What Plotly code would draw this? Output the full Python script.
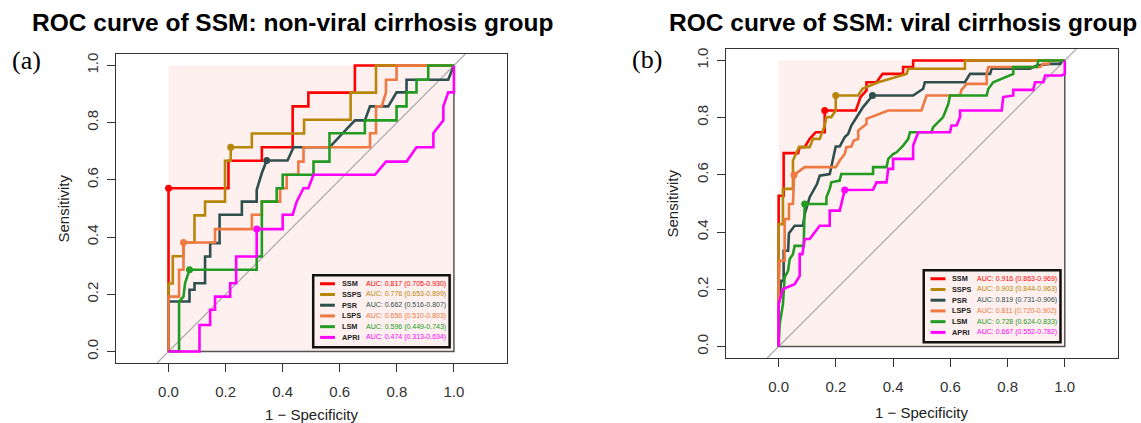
import plotly.graph_objects as go

W, H = 1141, 423

# ---------------- data ----------------
names = ["SSM", "SSPS", "PSR", "LSPS", "LSM", "APRI"]
colors = ["#ff0000", "#b8860b", "#2f4f4f", "#ee7942", "#229b22", "#ff00ff"]

auc_a = ["AUC: 0.817 (0.705-0.930)", "AUC: 0.776 (0.653-0.899)", "AUC: 0.662 (0.516-0.807)",
         "AUC: 0.656 (0.510-0.803)", "AUC: 0.596 (0.449-0.743)", "AUC: 0.474 (0.313-0.634)"]
auc_b = ["AUC: 0.916 (0.863-0.969)", "AUC: 0.903 (0.844-0.963)", "AUC: 0.819 (0.731-0.906)",
         "AUC: 0.811 (0.720-0.902)", "AUC: 0.728 (0.624-0.833)", "AUC: 0.667 (0.552-0.782)"]

tick_vals = [0, 0.2, 0.4, 0.6, 0.8, 1.0]
tick_text = ["0.0", "0.2", "0.4", "0.6", "0.8", "1.0"]

# panel (a): non-viral cirrhosis group  (x = 1 - specificity, y = sensitivity)
a_ssm_x = [0, 0, 0.21, 0.21, 0.327, 0.327, 0.435, 0.435, 0.49, 0.49, 0.653, 0.653, 1]
a_ssm_y = [0, 0.571, 0.571, 0.667, 0.667, 0.714, 0.714, 0.857, 0.857, 0.905, 0.905, 1, 1]

a_ssps_x = [0, 0, 0.015, 0.015, 0.052, 0.052, 0.091, 0.091, 0.128, 0.128, 0.198, 0.198, 0.218, 0.218,
            0.292, 0.292, 0.475, 0.475, 0.638, 0.638, 0.727, 0.727, 1]
a_ssps_y = [0, 0.238, 0.238, 0.333, 0.333, 0.381, 0.381, 0.476, 0.476, 0.524, 0.524, 0.667, 0.667, 0.714,
            0.714, 0.762, 0.762, 0.810, 0.810, 0.905, 0.905, 1, 1]

a_psr_x = [0, 0, 0.0735, 0.0735, 0.091, 0.091, 0.128, 0.128, 0.146, 0.146, 0.179, 0.179, 0.257, 0.257,
           0.309, 0.309, 0.327, 0.344, 0.417, 0.438, 0.564, 0.653, 0.688, 0.706, 0.770, 0.799, 0.834,
           0.834, 0.980, 1]
a_psr_y = [0, 0.175, 0.175, 0.216, 0.216, 0.239, 0.239, 0.332, 0.332, 0.379, 0.379, 0.478, 0.478, 0.524,
           0.524, 0.565, 0.624, 0.668, 0.668, 0.714, 0.714, 0.808, 0.808, 0.857, 0.857, 0.906, 0.906,
           0.950, 0.950, 1]

a_lsps_x = [0, 0, 0.037, 0.037, 0.0525, 0.0525, 0.163, 0.163, 0.292, 0.292, 0.327, 0.327, 0.391, 0.391,
            0.414, 0.414, 0.455, 0.455, 0.473, 0.473, 0.706, 0.706, 0.727, 0.727, 0.747, 0.762, 0.762,
            0.799, 0.799, 1]
a_lsps_y = [0, 0.192, 0.192, 0.286, 0.286, 0.381, 0.381, 0.428, 0.428, 0.478, 0.478, 0.524, 0.524, 0.571,
            0.571, 0.618, 0.618, 0.664, 0.664, 0.714, 0.714, 0.763, 0.763, 0.857, 0.857, 0.906, 0.950,
            0.950, 1, 1]

a_lsm_x = [0, 0.037, 0.037, 0.0525, 0.058, 0.0735, 0.309, 0.309, 0.327, 0.327, 0.379, 0.379, 0.400, 0.400,
           0.508, 0.508, 0.564, 0.564, 0.688, 0.688, 0.799, 0.799, 0.834, 0.834, 0.869, 0.869, 0.910,
           0.910, 1]
a_lsm_y = [0, 0, 0.175, 0.192, 0.239, 0.286, 0.286, 0.332, 0.332, 0.524, 0.524, 0.571, 0.571, 0.618,
           0.618, 0.664, 0.664, 0.763, 0.763, 0.808, 0.808, 0.857, 0.857, 0.906, 0.906, 0.950, 0.950,
           1, 1]

a_apri_x = [0, 0.1085, 0.1085, 0.146, 0.146, 0.163, 0.163, 0.216, 0.216, 0.237, 0.237, 0.309, 0.309,
            0.400, 0.400, 0.435, 0.449, 0.473, 0.490, 0.508, 0.7235, 0.762, 0.834, 0.869, 0.928, 0.928,
            0.963, 0.963, 0.980, 1, 1]
a_apri_y = [0, 0, 0.093, 0.093, 0.146, 0.146, 0.192, 0.192, 0.239, 0.239, 0.332, 0.332, 0.428, 0.428,
            0.478, 0.478, 0.524, 0.571, 0.571, 0.618, 0.618, 0.664, 0.664, 0.714, 0.714, 0.763, 0.808,
            0.857, 0.906, 0.906, 1]

a_best_x = [0, 0.218, 0.344, 0.0525, 0.0735, 0.309]
a_best_y = [0.571, 0.714, 0.668, 0.381, 0.286, 0.428]

# panel (b): viral cirrhosis group
b_ssm_x = [0, 0, 0.0175, 0.0175, 0.068, 0.0735, 0.091, 0.1085, 0.1295, 0.161, 0.161, 0.2695, 0.278,
           0.286, 0.307, 0.307, 0.342, 0.363, 0.435, 0.435, 0.470, 0.470, 1]
b_ssm_y = [0, 0.527, 0.527, 0.676, 0.676, 0.697, 0.697, 0.726, 0.749, 0.749, 0.825, 0.825, 0.848,
           0.872, 0.895, 0.924, 0.924, 0.953, 0.953, 0.977, 0.977, 1, 1]

b_ssps_x = [0, 0, 0.015, 0.015, 0.050, 0.050, 0.071, 0.1085, 0.120, 0.1435, 0.161, 0.167, 0.184, 0.1995,
            0.1995, 0.278, 0.293, 0.348, 0.447, 0.453, 0.651, 0.651, 1]
b_ssps_y = [0, 0.428, 0.428, 0.551, 0.551, 0.650, 0.697, 0.697, 0.726, 0.726, 0.7725, 0.802, 0.802, 0.825,
            0.8775, 0.8775, 0.901, 0.924, 0.953, 0.971, 0.971, 1, 1]

b_psr_x = [0, 0, 0.009, 0.0175, 0.0175, 0.033, 0.036, 0.056, 0.085, 0.091, 0.1085, 0.126, 0.134, 0.1435,
           0.1785, 0.1995, 0.2135, 0.231, 0.243, 0.254, 0.272, 0.295, 0.319, 0.328, 0.470, 0.505, 0.511,
           0.651, 0.669, 0.739, 0.7445, 0.879, 0.902, 0.949, 0.984, 0.9895, 1]
b_psr_y = [0, 0.148, 0.230, 0.230, 0.335, 0.335, 0.396, 0.422, 0.422, 0.463, 0.522, 0.551, 0.568, 0.597,
           0.603, 0.699, 0.699, 0.732, 0.743, 0.7725, 0.802, 0.837, 0.866, 0.8775, 0.8775, 0.901, 0.924,
           0.924, 0.953, 0.953, 0.971, 0.971, 0.9825, 0.988, 0.988, 1, 1]

b_lsps_x = [0, 0, 0.0035, 0.021, 0.021, 0.036, 0.036, 0.050, 0.054, 0.091, 0.1995, 0.2135, 0.231, 0.237,
            0.254, 0.2625, 0.278, 0.278, 0.307, 0.307, 0.383, 0.499, 0.517, 0.634, 0.639, 0.657, 0.727,
            0.727, 0.733, 0.914, 0.925, 0.943, 0.949, 1]
b_lsps_y = [0, 0.201, 0.300, 0.300, 0.446, 0.446, 0.498, 0.498, 0.600, 0.627, 0.627, 0.650, 0.673, 0.697,
            0.699, 0.720, 0.726, 0.755, 0.778, 0.796, 0.825, 0.825, 0.8775, 0.8775, 0.897, 0.918, 0.918,
            0.953, 0.977, 0.977, 0.988, 0.988, 1, 1]

b_lsm_x = [0, 0.0035, 0.015, 0.021, 0.033, 0.0385, 0.050, 0.056, 0.0875, 0.091, 0.167, 0.167, 0.1785,
           0.184, 0.2135, 0.219, 0.330, 0.330, 0.377, 0.383, 0.400, 0.412, 0.435, 0.453, 0.459, 0.534,
           0.540, 0.564, 0.575, 0.593, 0.599, 0.727, 0.733, 0.750, 0.820, 0.820, 0.902, 0.908, 1]
b_lsm_y = [0, 0.078, 0.148, 0.2415, 0.265, 0.306, 0.323, 0.352, 0.352, 0.498, 0.498, 0.522, 0.551,
           0.574, 0.580, 0.603, 0.603, 0.627, 0.627, 0.656, 0.673, 0.679, 0.7025, 0.726, 0.749, 0.749,
           0.767, 0.790, 0.802, 0.848, 0.8775, 0.8775, 0.901, 0.924, 0.953, 0.977, 0.977, 1, 1]

b_apri_x = [0, 0, 0.015, 0.056, 0.0735, 0.0735, 0.083, 0.091, 0.1085, 0.1435, 0.1785, 0.1785, 0.2135,
            0.231, 0.330, 0.342, 0.377, 0.383, 0.400, 0.400, 0.470, 0.470, 0.488, 0.599, 0.604, 0.622,
            0.634, 0.634, 0.7795, 0.785, 0.820, 0.820, 0.890, 0.896, 0.925, 0.931, 0.9895, 1, 1]
b_apri_y = [0, 0.148, 0.201, 0.218, 0.247, 0.323, 0.323, 0.376, 0.376, 0.422, 0.422, 0.475, 0.475,
            0.547, 0.548, 0.574, 0.574, 0.621, 0.621, 0.656, 0.656, 0.7025, 0.749, 0.749, 0.7725, 0.7725,
            0.802, 0.825, 0.825, 0.872, 0.8775, 0.897, 0.897, 0.924, 0.924, 0.9475, 0.9475, 0.953, 1]

b_best_x = [0.161, 0.1995, 0.328, 0.054, 0.091, 0.231]
b_best_y = [0.825, 0.8775, 0.8775, 0.600, 0.498, 0.547]

panels = [
    dict(xs=[a_ssm_x, a_ssps_x, a_psr_x, a_lsps_x, a_lsm_x, a_apri_x],
         ys=[a_ssm_y, a_ssps_y, a_psr_y, a_lsps_y, a_lsm_y, a_apri_y],
         bx=a_best_x, by=a_best_y, auc=auc_a, xa="x", ya="y",
         title="ROC curve of SSM: non-viral cirrhosis group", tag="(a)"),
    dict(xs=[b_ssm_x, b_ssps_x, b_psr_x, b_lsps_x, b_lsm_x, b_apri_x],
         ys=[b_ssm_y, b_ssps_y, b_psr_y, b_lsps_y, b_lsm_y, b_apri_y],
         bx=b_best_x, by=b_best_y, auc=auc_b, xa="x2", ya="y2",
         title="ROC curve of SSM: viral cirrhosis group", tag="(b)"),
]

# ---------------- layout geometry (pixels) ----------------
SANS = "Liberation Sans, Arial, Helvetica, sans-serif"
SERIF = "Liberation Serif, Times New Roman, serif"
PINK = "#fdf0ee"

geom = [
    dict(left=116, right=507, top=54, bottom=363, title_cx=292, tag_cx=26, tag_cy=61,
         ylab_cx=63, xlab_cy=414),
    dict(left=726, right=1118, top=49, bottom=358, title_cx=903, tag_cx=647, tag_cy=60,
         ylab_cx=672, xlab_cy=412),
]

fig = go.Figure()
shapes = []
annotations = []

for p, g in zip(panels, geom):
    xa, ya = p["xa"], p["ya"]
    xref, yref = xa, ya
    # pink square (0..1 x 0..1)
    shapes.append(dict(type="rect", xref=xref, yref=yref, x0=0, y0=0, x1=1, y1=1,
                       fillcolor=PINK, line=dict(width=0), layer="below"))
    shapes.append(dict(type="path", xref=xref, yref=yref, path="M 0,0 L 1,0 L 1,1",
                       line=dict(color="#555555", width=1.5), layer="below"))
    # chance diagonal
    shapes.append(dict(type="line", xref=xref, yref=yref, x0=-0.04, y0=-0.04, x1=1.04, y1=1.04,
                       line=dict(color="#aaaaaa", width=1.2), layer="below"))
    for i in range(6):
        fig.add_trace(go.Scatter(x=p["xs"][i], y=p["ys"][i], mode="lines",
                                 line=dict(color=colors[i], width=2.6), xaxis=xa, yaxis=ya,
                                 showlegend=False, hoverinfo="skip"))
    for i in range(6):
        fig.add_trace(go.Scatter(x=[p["bx"][i]], y=[p["by"][i]], mode="markers",
                                 marker=dict(color=colors[i], size=7), xaxis=xa, yaxis=ya,
                                 showlegend=False, hoverinfo="skip"))
    # legend box
    shapes.append(dict(type="rect", xref=xref, yref=yref, x0=0.507, y0=0.015, x1=0.985, y1=0.267,
                       fillcolor=PINK, line=dict(color="#111111", width=2.5), layer="above"))
    for i in range(6):
        yy = 0.237 - i * 0.0375
        shapes.append(dict(type="line", xref=xref, yref=yref, x0=0.531, x1=0.583, y0=yy, y1=yy,
                           line=dict(color=colors[i], width=3), layer="above"))
        annotations.append(dict(xref=xref, yref=yref, x=0.600, y=yy, text="<b>" + names[i] + "</b>",
                                showarrow=False, xanchor="left", yanchor="middle",
                                font=dict(family=SANS, size=7.3, color="#222222")))
        annotations.append(dict(xref=xref, yref=yref, x=0.685, y=yy, text=p["auc"][i],
                                showarrow=False, xanchor="left", yanchor="middle",
                                font=dict(family=SANS, size=7.0, color=colors[i])))
    # titles and labels
    annotations.append(dict(xref="paper", yref="paper", x=g["title_cx"] / W, y=1 - 23 / H,
                            text="<b>" + p["title"] + "</b>", showarrow=False,
                            xanchor="center", yanchor="middle",
                            font=dict(family=SANS, size=24.5, color="#000000")))
    annotations.append(dict(xref="paper", yref="paper", x=g["tag_cx"] / W, y=1 - g["tag_cy"] / H,
                            text=p["tag"], showarrow=False, xanchor="center", yanchor="middle",
                            font=dict(family=SERIF, size=26, color="#000000")))
    cy = (g["top"] + g["bottom"]) / 2
    annotations.append(dict(xref="paper", yref="paper", x=g["ylab_cx"] / W, y=1 - cy / H,
                            text="Sensitivity", textangle=-90, showarrow=False,
                            xanchor="center", yanchor="middle",
                            font=dict(family=SANS, size=15, color="#222222")))
    x0px = g["left"] + (0 + 0.184) / 1.37 * (g["right"] - g["left"])
    x1px = g["left"] + (1 + 0.184) / 1.37 * (g["right"] - g["left"])
    annotations.append(dict(xref="paper", yref="paper", x=(x0px + x1px) / 2 / W, y=1 - g["xlab_cy"] / H,
                            text="1 \u2212 Specificity", showarrow=False,
                            xanchor="center", yanchor="middle",
                            font=dict(family=SANS, size=15, color="#222222")))


def xaxis_cfg(g, anchor):
    return dict(domain=[g["left"] / W, g["right"] / W], range=[-0.184, 1.186], anchor=anchor,
                tickvals=tick_vals, ticktext=tick_text, ticks="outside", ticklen=8, tickwidth=1,
                tickcolor="#333333", showline=True, mirror=True, linecolor="#333333", linewidth=1.2,
                showgrid=False, zeroline=False, ticklabelstandoff=7,
                tickfont=dict(family=SANS, size=15, color="#333333"), fixedrange=True)


def yaxis_cfg(g, anchor):
    return dict(domain=[1 - g["bottom"] / H, 1 - g["top"] / H], range=[-0.04, 1.04], anchor=anchor,
                tickvals=tick_vals, ticktext=tick_text, ticks="outside", ticklen=8, tickwidth=1,
                tickcolor="#333333", showline=True, mirror=True, linecolor="#333333", linewidth=1.2,
                showgrid=False, zeroline=False, tickangle=-90, ticklabelstandoff=3,
                tickfont=dict(family=SANS, size=15, color="#333333"), fixedrange=True)


fig.update_layout(
    width=W, height=H, margin=dict(l=0, r=0, t=0, b=0),
    paper_bgcolor="white", plot_bgcolor="white",
    xaxis=xaxis_cfg(geom[0], "y"), yaxis=yaxis_cfg(geom[0], "x"),
    xaxis2=xaxis_cfg(geom[1], "y2"), yaxis2=yaxis_cfg(geom[1], "x2"),
    shapes=shapes, annotations=annotations, showlegend=False,
)

fig.write_html("out.html", config={"displayModeBar": False},
               post_script="document.body.style.margin='0px';document.body.style.overflow='hidden';")
